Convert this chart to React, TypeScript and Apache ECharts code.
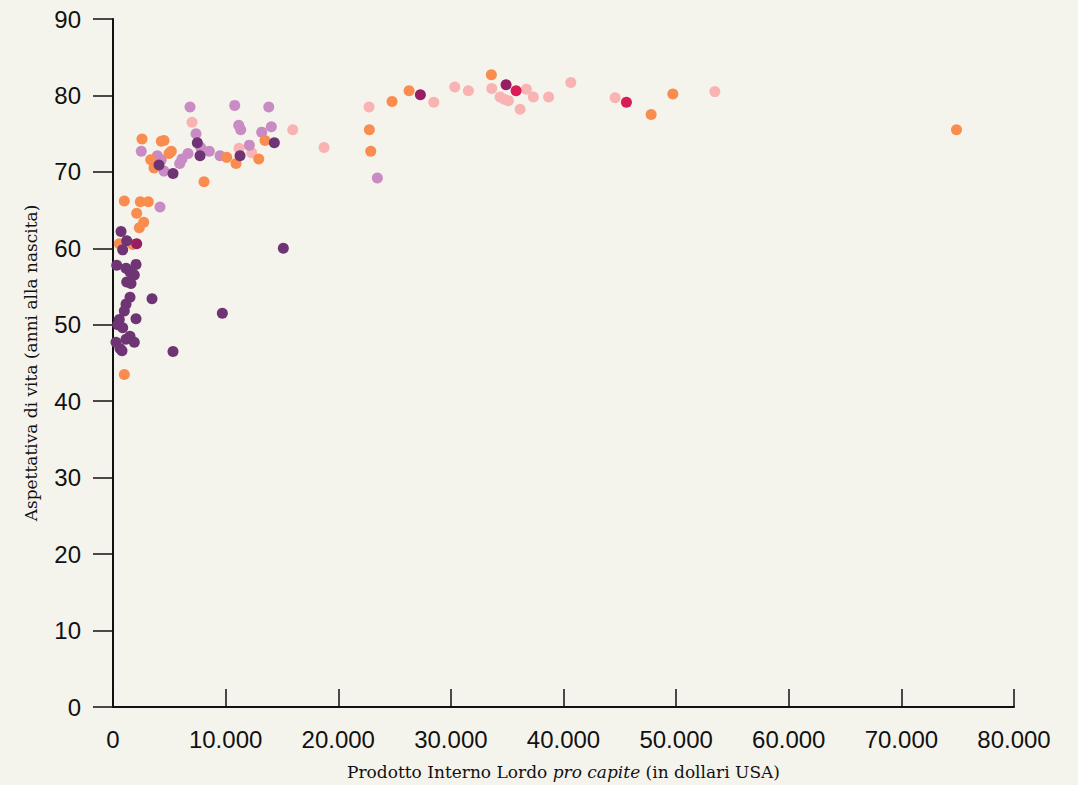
import React, { useEffect, useRef } from "react";
import * as echarts from "echarts";

const xTicks = [0, 10000, 20000, 30000, 40000, 50000, 60000, 70000, 80000];
const yTicks = [0, 10, 20, 30, 40, 50, 60, 70, 80, 90];

// [GDP per capita (USD), life expectancy]
const darkPurple: number[][] = [
  [710, 62.2], [1217, 61.0], [861, 59.8], [329, 57.8], [2043, 57.9], [1155, 57.4],
  [1510, 56.9], [1892, 56.5], [1217, 55.6], [1599, 55.4], [1510, 53.6], [3464, 53.4],
  [1155, 52.7], [1004, 51.8], [2043, 50.8], [560, 50.7], [417, 50.0], [861, 49.6],
  [1510, 48.5], [1155, 48.1], [1892, 47.7], [266, 47.7], [622, 46.9], [799, 46.6],
  [5329, 46.5], [9707, 51.5], [15124, 60.0], [4085, 70.9], [5329, 69.8], [7487, 73.8],
  [7727, 72.1], [11279, 72.1], [14325, 73.8],
];
const lightPurple: number[][] = [
  [4174, 65.4], [6838, 78.5], [10808, 78.7], [13828, 78.5], [11163, 76.1], [11341, 75.5],
  [7371, 75.0], [13206, 75.2], [14059, 75.9], [2513, 72.7], [7789, 73.2], [8552, 72.7],
  [6661, 72.4], [6128, 71.7], [5924, 71.1], [9503, 72.1], [12105, 73.5], [3934, 72.1],
  [4290, 71.6], [4529, 70.1], [23472, 69.2],
];
const orange: number[][] = [
  [1004, 66.2], [2425, 66.1], [3135, 66.1], [2105, 64.6], [2727, 63.4], [2336, 62.7],
  [560, 60.6], [1750, 60.5], [1004, 43.5], [2576, 74.3], [4290, 74.0], [4529, 74.1],
  [5178, 72.7], [4973, 72.4], [3348, 71.6], [3641, 70.5], [8082, 68.7], [10098, 71.9],
  [10924, 71.1], [12940, 71.7], [13499, 74.1], [22762, 75.5], [22886, 72.7], [24778, 79.2],
  [26288, 80.6], [33597, 82.7], [47780, 77.5], [49707, 80.2], [74894, 75.5],
];
const pink: number[][] = [
  [7016, 76.5], [11190, 73.1], [12318, 72.5], [15959, 75.5], [18739, 73.2], [22735, 78.5],
  [28481, 79.1], [30346, 81.1], [31554, 80.6], [33632, 80.9], [34369, 79.8], [34751, 79.5],
  [35106, 79.3], [36145, 78.2], [36705, 80.8], [37327, 79.8], [38677, 79.8], [40648, 81.7],
  [44583, 79.7], [53437, 80.5],
];
const darkMagenta: number[][] = [
  [2105, 60.6], [27292, 80.1], [34902, 81.4],
];
const crimson: number[][] = [
  [35790, 80.6], [45587, 79.1],
];

const groups = [
  { name: "pink", data: pink, color: "#f9b3b2" },
  { name: "lightPurple", data: lightPurple, color: "#c98bc3" },
  { name: "orange", data: orange, color: "#f98c4e" },
  { name: "darkPurple", data: darkPurple, color: "#6e3474" },
  { name: "darkMagenta", data: darkMagenta, color: "#981e63" },
  { name: "crimson", data: crimson, color: "#d91c55" },
];

const fmt = (v: number) => String(v).replace(/\B(?=(\d{3})+(?!\d))/g, ".");

export default function App() {
  const ref = useRef<HTMLDivElement>(null);
  useEffect(() => {
    if (!ref.current) return;
    const chart = echarts.init(ref.current, null, { renderer: "svg" });
    chart.setOption({
      animation: false,
      backgroundColor: "#f5f4ec",
      grid: { left: 113, right: 64, top: 19, bottom: 63 },
      xAxis: {
        type: "value",
        min: xTicks[0],
        max: xTicks[xTicks.length - 1],
        interval: 10000,
        splitLine: { show: false },
        axisLine: { show: true, onZero: false, lineStyle: { color: "#111", width: 2 } },
        axisTick: { show: true, inside: true, length: 18, lineStyle: { color: "#111", width: 1.5 } },
        axisLabel: {
          formatter: (v: number) => fmt(v),
          color: "#111",
          fontSize: 24,
          fontFamily: "Liberation Sans, Arial, sans-serif",
          margin: 20,
        },
        name: "{n|Prodotto Interno Lordo }{i|pro capite}{n| (in dollari USA)}",
        nameLocation: "middle",
        nameGap: 56,
        nameTextStyle: {
          rich: {
            n: { fontFamily: "DejaVu Serif", fontSize: 17, color: "#111" },
            i: { fontFamily: "DejaVu Serif", fontSize: 17, fontStyle: "italic", color: "#111" },
          },
        },
      },
      yAxis: {
        type: "value",
        min: yTicks[0],
        max: yTicks[yTicks.length - 1],
        interval: 10,
        splitLine: { show: false },
        axisLine: { show: true, lineStyle: { color: "#111", width: 2 } },
        axisTick: { show: true, length: 20, lineStyle: { color: "#111", width: 1.5 } },
        axisLabel: {
          color: "#111",
          fontSize: 24,
          fontFamily: "Liberation Sans, Arial, sans-serif",
          margin: 32,
        },
        name: "Aspettativa di vita (anni alla nascita)",
        nameLocation: "middle",
        nameGap: 74,
        nameTextStyle: { fontFamily: "DejaVu Serif", fontSize: 17, color: "#111" },
      },
      series: groups.map((g) => ({
        type: "scatter",
        name: g.name,
        data: g.data,
        symbolSize: 11,
        itemStyle: { color: g.color, opacity: 1 },
      })),
    });
    return () => chart.dispose();
  }, []);
  return (
    <div
      ref={ref}
      style={{ position: "fixed", left: 0, top: 0, width: 1078, height: 785 }}
    />
  );
}
